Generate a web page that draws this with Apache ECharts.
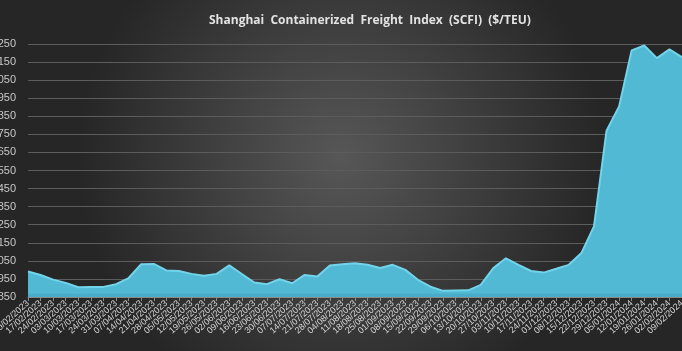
<!DOCTYPE html>
<html>
<head>
<meta charset="utf-8">
<script src="https://cdn.jsdelivr.net/npm/echarts@6/dist/echarts.min.js"></script>
<style>
    html, body { margin: 0; padding: 0; }
    #chart { width: 682px; height: 351px; }
</style>
</head>
<body>
<div id="chart"></div>
<script>
    // weekly dates (Fridays)
    var dates = [
        '10/02/2023','17/02/2023','24/02/2023','03/03/2023','10/03/2023','17/03/2023','24/03/2023','31/03/2023',
        '07/04/2023','14/04/2023','21/04/2023','28/04/2023','05/05/2023','12/05/2023','19/05/2023','26/05/2023',
        '02/06/2023','09/06/2023','16/06/2023','23/06/2023','30/06/2023','07/07/2023','14/07/2023','21/07/2023',
        '28/07/2023','04/08/2023','11/08/2023','18/08/2023','25/08/2023','01/09/2023','08/09/2023','15/09/2023',
        '22/09/2023','29/09/2023','06/10/2023','13/10/2023','20/10/2023','27/10/2023','03/11/2023','10/11/2023',
        '17/11/2023','24/11/2023','01/12/2023','08/12/2023','15/12/2023','22/12/2023','29/12/2023','05/01/2024',
        '12/01/2024','19/01/2024','26/01/2024','02/02/2024','09/02/2024'
    ];
    var scfi = [
        991, 972, 946, 928, 904, 906, 906, 921,
        955, 1031, 1033, 997, 994, 978, 967, 978,
        1025, 977, 930, 921, 948, 926, 972, 963,
        1024, 1031, 1037, 1028, 1010, 1028, 1000, 945,
        907, 884, 886, 887, 917, 1010, 1064, 1028,
        994, 985, 1006, 1028, 1093, 1240, 1770, 1905,
        2215, 2242, 2172, 2220, 2177
    ];
    var yMin = 850, yMax = 2250, yStep = 100;

    var chart = echarts.init(document.getElementById('chart'));
    chart.setOption({
        animation: false,
        backgroundColor: {
            type: 'radial', x: 0.5, y: 0.45, r: 0.75,
            colorStops: [
                { offset: 0, color: '#575757' },
                { offset: 1, color: '#262626' }
            ]
        },
        title: {
            text: 'Shanghai  Containerized  Freight  Index  (SCFI)  ($/TEU)',
            left: 204,
            top: 10,
            textStyle: {
                color: '#e2e2e2',
                fontSize: 12,
                fontWeight: 'bold',
                fontFamily: 'Open Sans'
            }
        },
        grid: { left: 28, right: 0, top: 44, bottom: 54, containLabel: false, outerBoundsMode: 'none' },
        xAxis: {
            type: 'category',
            boundaryGap: false,
            data: dates,
            axisLine: { lineStyle: { color: '#8a8a8a', width: 1 } },
            axisTick: { show: true, length: 4, lineStyle: { color: '#8a8a8a' }, interval: 0 },
            axisLabel: {
                interval: 0,
                rotate: 42,
                margin: 5,
                color: '#d2d2d2',
                fontSize: 9,
                fontFamily: 'Liberation Sans'
            },
            splitLine: { show: false }
        },
        yAxis: {
            type: 'value',
            min: yMin,
            max: yMax,
            interval: yStep,
            axisLine: { show: false },
            axisTick: { show: false },
            axisLabel: {
                margin: 12,
                color: '#c8c8c8',
                fontSize: 11,
                fontFamily: 'Liberation Sans',
                formatter: function (v) { return String(v); }
            },
            splitLine: { lineStyle: { color: '#5c5c5c', width: 1 } }
        },
        series: [{
            type: 'line',
            data: scfi,
            symbol: 'none',
            lineStyle: { color: '#72d3ea', width: 2 },
            areaStyle: {
                opacity: 1,
                color: {
                    type: 'linear', x: 0, y: 0, x2: 0, y2: 351, global: true,
                    colorStops: [
                        { offset: 0, color: '#52b9d5' },
                        { offset: 0.835, color: '#52b9d5' },
                        { offset: 0.838, color: '#49adc9' },
                        { offset: 1, color: '#49adc9' }
                    ]
                }
            }
        }]
    });
</script>
</body>
</html>
